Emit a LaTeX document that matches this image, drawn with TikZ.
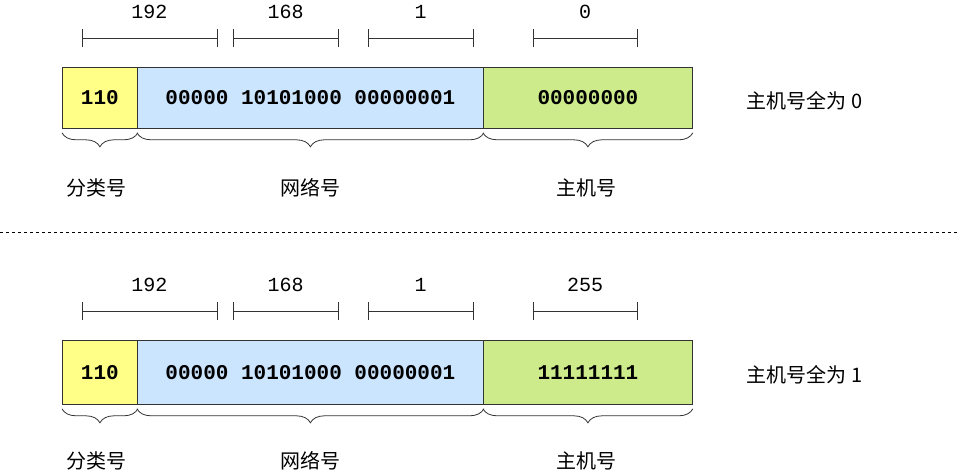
\documentclass[tikz,border=0pt]{standalone}
\usepackage{fontspec}
\setmainfont{Liberation Sans}
\setmonofont{Liberation Mono}
\newfontfamily\cjk{Noto Sans CJK SC}
\usetikzlibrary{decorations.pathreplacing}
\definecolor{cyel}{HTML}{FFFF88}
\definecolor{cblu}{HTML}{CCE5FF}
\definecolor{cgrn}{HTML}{CDEB8B}
\tikzset{
  box/.style={draw=black!80,line width=0.8pt,minimum height=61pt,inner sep=0pt,font=\ttfamily\bfseries\fontsize{21}{21}\selectfont,anchor=north west},
  rul/.style={line width=0.8pt,black!80},
  num/.style={font=\ttfamily\fontsize{20}{20}\selectfont},
  lab/.style={font=\cjk\fontsize{20}{20}\selectfont},
  brc/.style={decorate,decoration={brace,mirror,amplitude=14pt},line width=0.8pt,black!80}
}
\begin{document}
\begin{tikzpicture}[x=1pt,y=-1pt]
\useasboundingbox (0,0) rectangle (960,474);
\draw[dashed,line width=0.7pt] (0,232) -- (960,232);
\foreach \r/\y/\h/\last/\bits/\tail in {a/0/61/0/00000000/0,b/273/64/255/11111111/1}{
  \begin{scope}[yshift=-\y pt]
  \node[box,fill=cyel,minimum width=75pt,minimum height=\h pt] (\r1) at (62,67) {110};
  \node[box,fill=cblu,minimum width=346pt,minimum height=\h pt] (\r2) at (137,67) {00000 10101000 00000001};
  \node[box,fill=cgrn,minimum width=209pt,minimum height=\h pt] (\r3) at (483,67) {\bits};
  \foreach \i/\xa/\xb/\t in {1/82/217/192,2/233/338/168,3/368/473/1,4/533/637/\last}{
    \coordinate (\r s\i) at (\xa,38);
    \coordinate (\r e\i) at (\xb,38);
    \draw[rul] (\r s\i) -- (\r e\i);
    \draw[rul] ([yshift=-9pt]\r s\i) -- ([yshift=9pt]\r s\i);
    \draw[rul] ([yshift=-9pt]\r e\i) -- ([yshift=9pt]\r e\i);
    \node[num] (\r n\i) at ({(\xa+\xb)/2},12) {\t};
  }
  \draw[brc] ([yshift=-4pt]\r1.south west) -- ([yshift=-4pt]\r1.south east);
  \draw[brc] ([yshift=-4pt]\r2.south west) -- ([yshift=-4pt]\r2.south east);
  \draw[brc] ([yshift=-4pt]\r3.south west) -- ([yshift=-4pt]\r3.south east);
  \node[lab] (\r l1) at (96,188) {分类号};
  \node[lab] (\r l2) at (310,188) {网络号};
  \node[lab] (\r l3) at (586,188) {主机号};
  \node[lab,anchor=west] (\r t) at (743,100+\h/2-30) {主机号全为 \tail};
  \end{scope}
}
\end{tikzpicture}
\end{document}
